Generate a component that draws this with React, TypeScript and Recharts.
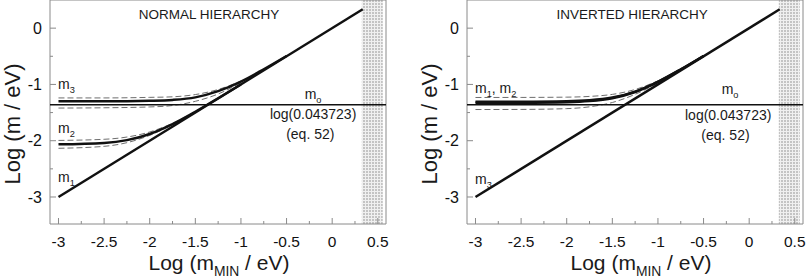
import React from "react";
import {
  LineChart,
  Line,
  XAxis,
  YAxis,
  ReferenceLine,
  ReferenceArea,
  ReferenceDot,
  Label,
} from "recharts";

const FONT = "Arial, 'Liberation Sans', sans-serif";
const AXIS = "#8a8a8a";
const INK = "#111";

// axis ticks: x every 0.25 (labels every 0.5), y every 0.5 (labels at integers)
const xTicks = [-3, -2.75, -2.5, -2.25, -2, -1.75, -1.5, -1.25, -1, -0.75, -0.5, -0.25, 0, 0.25, 0.5];
const yTicks = [-3, -2.5, -2, -1.5, -1, -0.5, 0];
const X_DOMAIN = [-3.093, 0.59];
const Y_DOMAIN = [-3.48, 0.5];

// horizontal reference log(0.043723) and excluded (shaded) range
const m0Level = -1.3593;
const shadeRange = [0.325, 0.555];

// lightest mass, identical in both panels (log m = log m_MIN)
const diagX = [-3, 0.335];
const diagY = [-3, 0.335];

// normal hierarchy
const nhM3X = [-3, -2.5, -2, -1.75, -1.5, -1.25, -1, -0.75, -0.5];
const nhM3 = [-1.3, -1.3, -1.29, -1.275, -1.23, -1.12, -0.95, -0.73, -0.495];
const nhM3BandX = [-3, -2.5, -2, -1.75, -1.5, -1.25, -1];
const nhM3Hi = [-1.24, -1.24, -1.23, -1.22, -1.18, -1.09, -0.94];
const nhM3Lo = [-1.42, -1.415, -1.4, -1.375, -1.3, -1.17, -0.97];
const nhM2X = [-3, -2.5, -2.25, -2, -1.75, -1.5, -1.25, -1];
const nhM2 = [-2.065, -2.04, -1.99, -1.88, -1.705, -1.485, -1.245, -1.0];
const nhM2BandX = [-3, -2.5, -2.25, -2, -1.75, -1.5, -1.25];
const nhM2Hi = [-1.995, -1.975, -1.935, -1.845, -1.69, -1.48, -1.245];
const nhM2Lo = [-2.135, -2.1, -2.035, -1.905, -1.715, -1.49, -1.25];

// inverted hierarchy
const ihX = [-3, -2.5, -2, -1.75, -1.5, -1.25, -1, -0.75, -0.5];
const ihM1 = [-1.325, -1.324, -1.315, -1.296, -1.245, -1.134, -0.956, -0.735, -0.495];
const ihM2 = [-1.31, -1.309, -1.301, -1.283, -1.234, -1.127, -0.953, -0.733, -0.495];
const ihBandX = [-3, -2.5, -2, -1.75, -1.5, -1.25, -1];
const ihHi = [-1.232, -1.231, -1.226, -1.213, -1.177, -1.09, -0.936];
const ihLo = [-1.446, -1.444, -1.43, -1.398, -1.321, -1.176, -0.974];

type Part = [string, boolean];
type Note = { x: number; y: number; parts: Part[]; size: number; anchor?: "start" | "middle" | "end" };
type Curve = { xs: number[]; ys: number[]; dashed?: boolean };

const zip = (xs: number[], ys: number[]) => xs.map((x, i) => ({ x, y: ys[i] }));

function Rich({ x, y, parts, size, anchor = "start", rotate }: any) {
  return (
    <text
      x={x}
      y={y}
      fontSize={size}
      fontFamily={FONT}
      fill="#1a1a1a"
      textAnchor={anchor}
      transform={rotate ? `rotate(${rotate}, ${x}, ${y})` : undefined}
    >
      {parts.map(([t, sub]: Part, i: number) => {
        const prevSub = i > 0 && parts[i - 1][1];
        const dy = sub && !prevSub ? size * 0.3 : !sub && prevSub ? -size * 0.3 : 0;
        return (
          <tspan key={i} dy={dy} fontSize={sub ? size * 0.66 : size}>
            {t}
          </tspan>
        );
      })}
    </text>
  );
}

function XTick({ x, y, payload }: any) {
  const v = payload.value;
  const major = Math.abs(v * 2 - Math.round(v * 2)) < 1e-6;
  return (
    <g>
      <line x1={x} x2={x} y1={y} y2={y - (major ? 6 : 3)} stroke={AXIS} />
      {major && (
        <text x={x} y={y + 23} textAnchor="middle" fontSize={15.5} fontFamily={FONT} fill={INK}>
          {String(v)}
        </text>
      )}
    </g>
  );
}

function YTick({ x, y, payload }: any) {
  const v = payload.value;
  const major = Number.isInteger(v);
  return (
    <g>
      <line x1={x} x2={x + (major ? 6 : 3)} y1={y} y2={y} stroke={AXIS} />
      {major && (
        <text x={x - 8} y={y} dy="0.36em" textAnchor="end" fontSize={16} fontFamily={FONT} fill={INK}>
          {String(v)}
        </text>
      )}
    </g>
  );
}

interface PanelProps {
  curves: Curve[];
  notes: Note[];
  yAxisWidth: number;
  rightMargin: number;
  xTitleShift: number;
}

function Panel({ curves, notes, yAxisWidth, rightMargin, xTitleShift }: PanelProps) {
  return (
    <LineChart
      width={403}
      height={278}
      margin={{ top: 0, right: rightMargin, bottom: 0, left: 0 }}
    >
      <XAxis
        type="number"
        dataKey="x"
        domain={X_DOMAIN}
        allowDataOverflow
        ticks={xTicks}
        interval={0}
        height={54}
        axisLine={false}
        tickLine={false}
        tickSize={0}
        tickMargin={0}
        tick={<XTick />}
      >
        <Label
          content={({ viewBox }: any) => (
            <Rich
              x={viewBox.x + viewBox.width / 2 + xTitleShift}
              y={viewBox.y + 46}
              size={21}
              anchor="middle"
              parts={[["Log (m", false], ["MIN", true], [" / eV)", false]]}
            />
          )}
        />
      </XAxis>
      <YAxis
        type="number"
        dataKey="y"
        domain={Y_DOMAIN}
        allowDataOverflow
        ticks={yTicks}
        interval={0}
        width={yAxisWidth}
        axisLine={false}
        tickLine={false}
        tickSize={0}
        tickMargin={0}
        tick={<YTick />}
      >
        <Label
          content={({ viewBox }: any) => (
            <Rich
              x={viewBox.x + viewBox.width - 30}
              y={viewBox.y + 124}
              size={22}
              anchor="middle"
              rotate={-90}
              parts={[["Log (m / eV)", false]]}
            />
          )}
        />
      </YAxis>

      <ReferenceArea
        x1={shadeRange[0]}
        x2={shadeRange[1]}
        y1={Y_DOMAIN[0]}
        y2={Y_DOMAIN[1]}
        fill="url(#shadeDots)"
        fillOpacity={1}
        stroke="none"
      />

      {curves.map((c, i) => (
        <Line
          key={i}
          data={zip(c.xs, c.ys)}
          dataKey="y"
          type="monotone"
          dot={false}
          activeDot={false}
          stroke={c.dashed ? "#6e6e6e" : INK}
          strokeWidth={c.dashed ? 1 : 2.5}
          strokeDasharray={c.dashed ? "6 3" : undefined}
          isAnimationActive={false}
        />
      ))}

      <ReferenceLine y={m0Level} stroke={INK} strokeWidth={1.5} />

      <ReferenceArea
        x1={X_DOMAIN[0]}
        x2={X_DOMAIN[1]}
        y1={Y_DOMAIN[0]}
        y2={Y_DOMAIN[1]}
        fill="none"
        stroke={AXIS}
      />

      {notes.map((n, i) => (
        <ReferenceDot
          key={i}
          x={n.x}
          y={n.y}
          r={0}
          ifOverflow="visible"
          shape={(p: any) => (
            <Rich x={p.cx} y={p.cy} parts={n.parts} size={n.size} anchor={n.anchor ?? "start"} />
          )}
        />
      ))}
    </LineChart>
  );
}

const nhCurves: Curve[] = [
  { xs: nhM3BandX, ys: nhM3Hi, dashed: true },
  { xs: nhM3BandX, ys: nhM3Lo, dashed: true },
  { xs: nhM2BandX, ys: nhM2Hi, dashed: true },
  { xs: nhM2BandX, ys: nhM2Lo, dashed: true },
  { xs: nhM3X, ys: nhM3 },
  { xs: nhM2X, ys: nhM2 },
  { xs: diagX, ys: diagY },
];

const ihCurves: Curve[] = [
  { xs: ihBandX, ys: ihHi, dashed: true },
  { xs: ihBandX, ys: ihLo, dashed: true },
  { xs: ihX, ys: ihM1 },
  { xs: ihX, ys: ihM2 },
  { xs: diagX, ys: diagY },
];

const nhNotes: Note[] = [
  { x: -1.35, y: 0.169, size: 13.5, anchor: "middle", parts: [["NORMAL HIERARCHY", false]] },
  { x: -3.005, y: -1.083, size: 14, parts: [["m", false], ["3", true]] },
  { x: -3.005, y: -1.865, size: 14, parts: [["m", false], ["2", true]] },
  { x: -3.005, y: -2.735, size: 14, parts: [["m", false], ["1", true]] },
  { x: -0.209, y: -1.255, size: 14, anchor: "middle", parts: [["m", false], ["o", true]] },
  { x: -0.209, y: -1.616, size: 14, anchor: "middle", parts: [["log(0.043723)", false]] },
  { x: -0.24, y: -1.972, size: 14, anchor: "middle", parts: [["(eq. 52)", false]] },
];

const ihNotes: Note[] = [
  { x: -1.284, y: 0.169, size: 13.5, anchor: "middle", parts: [["INVERTED HIERARCHY", false]] },
  { x: -3.005, y: -1.155, size: 14, parts: [["m", false], ["1", true], [", m", false], ["2", true]] },
  { x: -3.005, y: -2.765, size: 14, parts: [["m", false], ["3", true]] },
  { x: -0.209, y: -1.17, size: 14, anchor: "middle", parts: [["m", false], ["o", true]] },
  { x: -0.23, y: -1.634, size: 14, anchor: "middle", parts: [["log(0.043723)", false]] },
  { x: -0.26, y: -1.99, size: 14, anchor: "middle", parts: [["(eq. 52)", false]] },
];

export default function App() {
  return (
    <div style={{ position: "absolute", left: 0, top: 0, width: 806, height: 278, background: "#fff" }}>
      <svg width={0} height={0} style={{ position: "absolute" }}>
        <defs>
          <pattern id="shadeDots" width={3} height={3} patternUnits="userSpaceOnUse">
            <rect width={3} height={3} fill="#f0f0f0" />
            <rect width={2} height={2} fill="#c4c4c4" />
          </pattern>
        </defs>
      </svg>
      <div style={{ display: "flex" }}>
        <Panel curves={nhCurves} notes={nhNotes} yAxisWidth={50} rightMargin={17} xTitleShift={1} />
        <Panel curves={ihCurves} notes={ihNotes} yAxisWidth={64} rightMargin={3} xTitleShift={6} />
      </div>
    </div>
  );
}
